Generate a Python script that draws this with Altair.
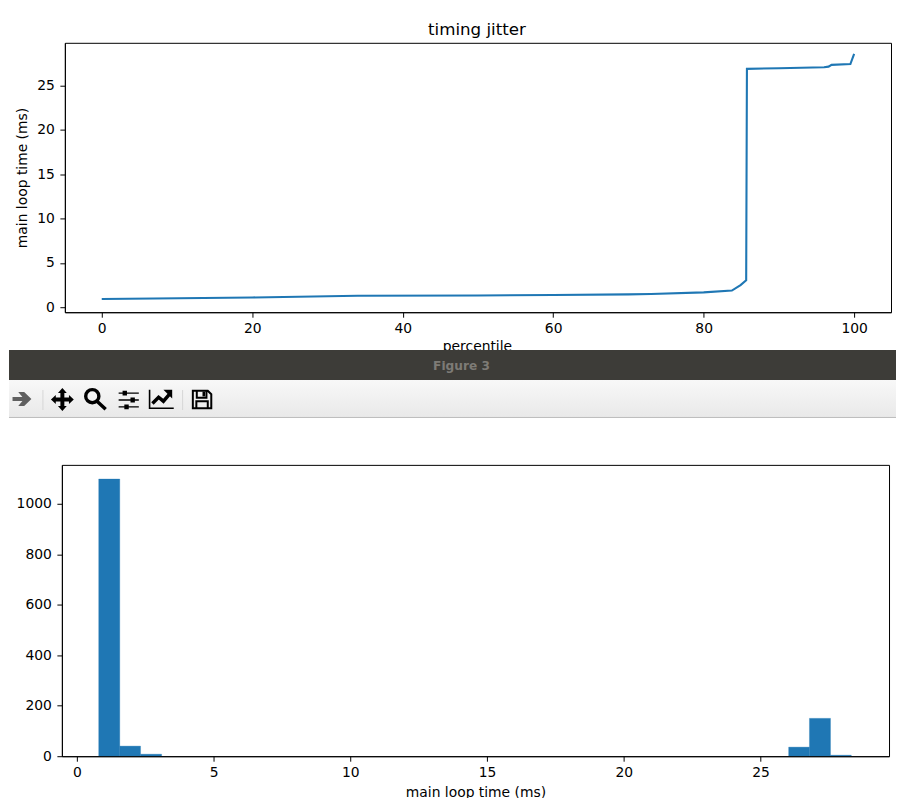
import altair as alt
import pandas as pd

# --- data ---
percentile = [0, 7, 20, 34, 50, 60, 70, 73, 80, 83.75, 84.9, 85.65, 85.75, 90, 96, 96.6, 97, 99.5, 100]
loop_ms = [0.93, 0.98, 1.1, 1.3, 1.33, 1.38, 1.45, 1.5, 1.68, 1.88, 2.5, 3.05, 26.9, 26.97, 27.08, 27.15, 27.35, 27.45, 28.6]

bin_start = [0.80, 1.57, 2.33, 26.03, 26.79, 27.56]
bin_end = [1.57, 2.33, 3.10, 26.79, 27.56, 28.32]
bin_count = [1098, 40, 8, 36, 150, 4]

x_ticks_top = [0, 20, 40, 60, 80, 100]
y_ticks_top = [0, 5, 10, 15, 20, 25]
x_ticks_bot = [0, 5, 10, 15, 20, 25]
y_ticks_bot = [0, 200, 400, 600, 800, 1000]

W = 832
TOP_H = 270
BAND_H = 77
BOT_H = 292
BLACK = "#000000"
BLUE = "#1f77b4"
LEFT, RIGHT = -53, 836

axis_common = dict(
    domainColor=BLACK, tickColor=BLACK, labelColor=BLACK, titleColor=BLACK,
    tickSize=5, domainWidth=1, tickWidth=1, grid=False,
    labelFont="DejaVu Sans", titleFont="DejaVu Sans", labelFontSize=13.9,
    titleFontSize=13.9, titleFontWeight="normal",
)

one = pd.DataFrame({"a": [0]})

# --- top panel ---
line_df = pd.DataFrame({"p": percentile, "t": loop_ms})
top_frame = alt.Chart(one).mark_rect(fill=None, stroke=BLACK, strokeWidth=1).encode(
    x=alt.value(3.5), x2=alt.value(831.5), y=alt.value(0.5), y2=alt.value(TOP_H + 0.5))
top_line = alt.Chart(line_df).mark_line(color=BLUE, strokeWidth=2.1, clip=False).encode(
    x=alt.X("p:Q", scale=alt.Scale(domain=[-4.9, 104.9], range=[3, 831], nice=False, zero=False),
            axis=alt.Axis(title="percentile", values=x_ticks_top, titlePadding=4, labelPadding=4,
                          titleX=416, **axis_common)),
    y=alt.Y("t:Q", scale=alt.Scale(domain=[-0.563, 29.84], nice=False, zero=False),
            axis=alt.Axis(title="main loop time (ms)", values=y_ticks_top, offset=-3, titlePadding=7.5,
                          labelPadding=5.5, **axis_common)),
)
top = alt.layer(top_frame, top_line).properties(
    width=W, height=TOP_H,
    title=alt.TitleParams("timing jitter", font="DejaVu Sans", fontSize=16.7, fontWeight="normal",
                          color=BLACK, offset=4),
)

# --- window chrome between the two figures ---
title_bar = alt.Chart(one).mark_rect(color="#3d3c38").encode(
    x=alt.value(LEFT), x2=alt.value(RIGHT), y=alt.value(0), y2=alt.value(30))
tool_bar = alt.Chart(one).mark_rect(
    color=alt.Gradient(gradient="linear", x1=0, y1=0, x2=0, y2=1,
                       stops=[alt.GradientStop(color="#f8f8f8", offset=0),
                              alt.GradientStop(color="#e9e9e9", offset=1)])
).encode(x=alt.value(LEFT), x2=alt.value(RIGHT), y=alt.value(30), y2=alt.value(67))
tool_line = alt.Chart(one).mark_rule(color="#bdbdbd").encode(
    x=alt.value(LEFT), x2=alt.value(RIGHT), y=alt.value(67.5))
fig_label = alt.Chart(pd.DataFrame({"s": ["Figure 3"]})).mark_text(
    font="DejaVu Sans", fontSize=12.2, fontWeight="bold", color="#7d7b76"
).encode(x=alt.value(400.5), y=alt.value(15.5), text="s:N")


def icon(path, px, py, filled=True, color=BLACK, sw=1.5):
    mark = alt.Chart(one).mark_point(shape=path, size=1936, filled=filled, opacity=1,
                                     color=color, strokeWidth=0 if filled else sw)
    return mark.encode(x=alt.value(px - 61), y=alt.value(py - 350))


def sep(px):
    return alt.Chart(one).mark_rule(color="#d6d6d6").encode(
        x=alt.value(px - 61), y=alt.value(40), y2=alt.value(60))


arrow = "M-.43 -.09H.02L-.17 -.32H.1L.43 0L.1 .32H-.17L.02 .09H-.43Z"
move = ("M0 -.52L.2 -.3H.09V-.09H.3V-.2L.52 0L.3 .2V.09H.09V.3H.2L0 .52L-.2 .3H-.09V.09H-.3V.2"
        "L-.52 0L-.3 -.2V-.09H-.09V-.3H-.2Z")
lens = "M.14 -.13A.3 .3 0 1 1 -.46 -.13A.3 .3 0 1 1 .14 -.13M.08 .12L.45 .47"
sliders = ("M-.46 -.34H.46V-.28H-.46ZM-.46 -.03H.46V.03H-.46ZM-.46 .28H.46V.34H-.46Z"
           "M-.28 -.42H-.08V-.2H-.28ZM.08 -.11H.28V.11H.08ZM-.2 .2H0V.42H-.2Z")
trend_axes = "M-.55 -.42V.42H.55"
trend_line = "M-.42 .2L-.14 -.08L.08 .1L.36 -.22"
trend_head = "M.08 -.42H.48V-.02Z"
disk = "M-.42 -.4H.26L.42 -.24V.4H-.42ZM-.24 -.4V-.08H.2V-.4M-.26 .4V.08H.26V.4"
disk_fill = "M.02 -.36H.14V-.14H.02Z"

band = alt.layer(
    title_bar, tool_bar, tool_line, fig_label,
    sep(42), sep(182),
    icon(arrow, 21, 399, color="#606060"),
    icon(move, 61.5, 399.5),
    icon(lens, 95, 399, filled=False, sw=3.4),
    icon(sliders, 128, 400),
    icon(trend_axes, 161, 399, filled=False, sw=1.6),
    icon(trend_line, 161, 399, filled=False, sw=3.5),
    icon(trend_head, 161, 399),
    icon(disk, 201.5, 399.5, filled=False, sw=2),
    icon(disk_fill, 201.5, 399.5),
).properties(width=W, height=BAND_H)

# --- bottom panel ---
hist_df = pd.DataFrame({"a": bin_start, "b": bin_end, "c": bin_count})
bot_frame = alt.Chart(one).mark_rect(fill=None, stroke=BLACK, strokeWidth=1).encode(
    x=alt.value(0.5), x2=alt.value(829.5), y=alt.value(0.5), y2=alt.value(BOT_H + 0.5))
bot_bars = alt.Chart(hist_df).mark_rect(color=BLUE, stroke=BLUE, strokeWidth=0.3).encode(
    x=alt.X("a:Q", scale=alt.Scale(domain=[-0.547, 29.7], range=[0, 829], nice=False, zero=False),
            axis=alt.Axis(title="main loop time (ms)", values=x_ticks_bot, titlePadding=6, labelPadding=4,
                          **axis_common)),
    x2="b:Q",
    y=alt.Y("c:Q", scale=alt.Scale(domain=[0, 1154], nice=False, zero=False),
            axis=alt.Axis(title=None, values=y_ticks_bot, format="d", labelPadding=5.5, **axis_common)),
)
bottom = alt.layer(bot_bars, bot_frame).properties(width=W, height=BOT_H)

chart = alt.vconcat(top, band, bottom, spacing=38, bounds="flush").properties(
    padding={"left": 0, "top": 13, "right": 0, "bottom": 0}
).configure_view(stroke=None)

chart.save("out.html", embed_options={"renderer": "svg", "actions": False})
